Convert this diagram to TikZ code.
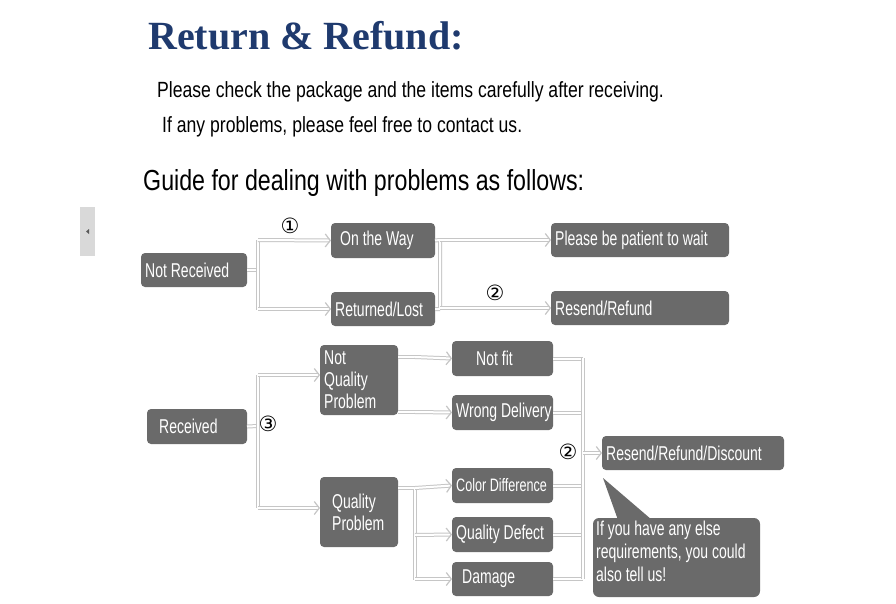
\documentclass[tikz,border=0pt]{standalone}
\usepackage{fontspec}
\setmainfont{Liberation Sans}[FakeStretch=0.8]
\newfontfamily\boxfont{Liberation Sans}[FakeStretch=0.7]
\newfontfamily\titlefont{Liberation Serif}
\newfontfamily\circfont{DejaVu Sans}
\usetikzlibrary{positioning,arrows.meta,calc}
\definecolor{boxgray}{HTML}{6A6A6A}
\definecolor{navy}{HTML}{1F3A6E}
\def\boxR{4pt}
\tikzset
{
  Box/.style=
  {
    fill=boxgray,
    text=white,
    rounded corners=\boxR,
    font=\boxfont\fontsize{20}{22}\selectfont,
    inner sep=2pt,
  },
  Pipe/.style=
  {
    draw=gray!45,
    double=white,
    double distance=2pt,
    line width=1pt,
  },
  Arrow/.style=
  {
    Pipe,
    -{Straight Barb[length=5pt,width=13pt,line width=1.2pt]},
  },
  Num/.style={font=\circfont\fontsize{21}{21}\selectfont, inner sep=0pt},
}
\newcommand{\mkbox}[6]{% name, x1, y1, x2, y2, text
  \fill[boxgray, rounded corners=\boxR] (#2,#3) rectangle (#4,#5);
  \node (#1) [Box, fill=none, align=left, anchor=west] at (#2+2,{(#3+#5)/2}) {#6};
  \coordinate (#1-w) at (#2,{(#3+#5)/2});
  \coordinate (#1-e) at (#4,{(#3+#5)/2});
}
\begin{document}
\begin{tikzpicture}[x=1pt, y=-1pt]
\useasboundingbox (0,0) rectangle (896,604);
\fill[white] (0,0) rectangle (896,604);

% header
\node (title) [anchor=base west, text=navy, inner sep=0pt,
  font=\titlefont\bfseries\fontsize{40}{40}\selectfont] at (148,50) {Return \& Refund:};
\node (check) [anchor=base west, inner sep=0pt, font=\fontsize{22}{22}\selectfont] at (157,98) {Please check the package and the items carefully after receiving.};
\node (contact) [anchor=base west, inner sep=0pt, font=\fontsize{22}{22}\selectfont] at (162,133) {If any problems, please feel free to contact us.};
\node (guide) [anchor=base west, inner sep=0pt, font=\fontsize{29}{29}\selectfont] at (143,190) {Guide for dealing with problems as follows:};

% side tab
\fill[gray!30] (80,207) rectangle (95,256);
\fill[gray!70!black] (86,231.5) -- (89,229) -- (89,234) -- cycle;

% boxes
\mkbox{notrec}{141}{253}{247}{287}{Not Received}
\mkbox{onway}{331}{223}{435}{258}{\hspace{5pt}On the Way}
\mkbox{lost}{331}{292}{435}{326}{Returned/Lost}
\mkbox{wait}{551}{223}{729}{257}{Please be patient to wait}
\mkbox{resend}{551}{291}{729}{325}{Resend/Refund}
\mkbox{rec}{147}{409}{247}{444}{\hspace{8pt}Received}
\mkbox{nqp}{320}{345}{398}{415}{Not\\Quality\\Problem}
\mkbox{qp}{320}{477}{398}{547}{\hspace{8pt}Quality\\\hspace{8pt}Problem}
\mkbox{notfit}{452}{341}{553}{376}{\hspace{20pt}Not fit}
\mkbox{wrong}{452}{395}{553}{430}{Wrong Delivery}
\mkbox{color}{452}{468}{553}{503}{\fontsize{18}{18}\selectfont Color Difference}
\mkbox{defect}{452}{517}{553}{552}{Quality Defect}
\mkbox{damage}{452}{562}{553}{596}{\hspace{6pt}Damage}
\mkbox{rrd}{602}{436}{784}{470}{Resend/Refund/Discount}

% callout
\fill[boxgray, rounded corners=6pt] (593,518) rectangle (760,597);
\fill[boxgray] (603,478) -- (618,520) -- (652,520) -- cycle;
\node (tell) [Box, fill=none, align=left, anchor=north west,
  font=\boxfont\fontsize{20}{23}\selectfont] at (594,519) {If you have any else\\requirements, you could\\also tell us!};

% not received
\draw[Pipe] (notrec-e) -- (258,270);
\draw[Pipe] (258,240) -- (258,310);
\draw[Arrow] (258,240) -- (onway-w);
\draw[Arrow] (258,309) -- (lost-w);
\node (n1) [Num] at (290,226) {①};
\draw[Pipe] (onway-e) -- (440,240) (lost-e) -- (440,309) (440,240) -- (440,309);
\draw[Arrow] (440,240) -- (wait-w);
\draw[Arrow] (440,308) -- (resend-w);
\node (n2) [Num] at (495,293) {②};

% received
\draw[Pipe] (rec-e) -- (258,426);
\draw[Pipe] (258,375) -- (258,508);
\draw[Arrow] (258,375) -- (nqp-w |- 0,375);
\draw[Arrow] (258,508) -- (qp-w |- 0,508);
\node (n3) [Num] at (268,424) {③};
\draw[Pipe] (398,357) -- (415,357) (398,412) -- (415,412);
\draw[Arrow] (415,357) -- (notfit-w);
\draw[Arrow] (415,412) -- (wrong-w);
\draw[Pipe] (398,488) -- (415,488) (415,488) -- (415,580);
\draw[Arrow] (415,488) -- (color-w);
\draw[Arrow] (415,535) -- (defect-w);
\draw[Arrow] (415,579) -- (damage-w);

% collect
\foreach \b in {notfit,wrong,color,defect,damage}
  \draw[Pipe] (\b-e) -- (583,0 |- \b-e);
\draw[Pipe] (583,358) -- (583,579);
\draw[Arrow] (583,453) -- (rrd-w);
\node (n4) [Num] at (568,452) {②};
\end{tikzpicture}
\end{document}
